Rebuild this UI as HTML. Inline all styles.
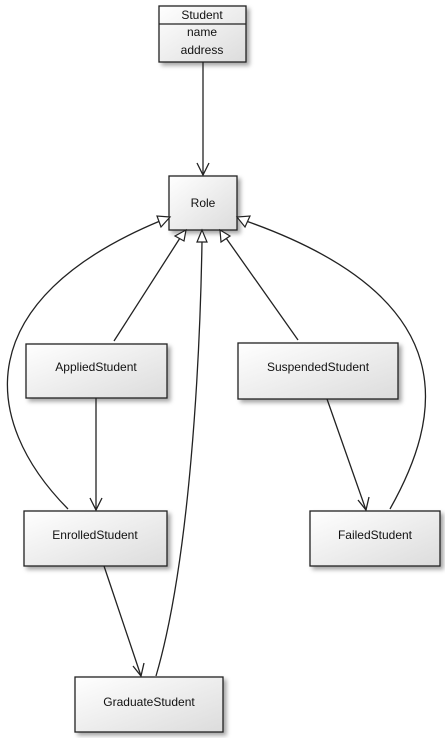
<!DOCTYPE html>
<html><head><meta charset="utf-8"><style>
html,body{margin:0;padding:0;background:#fff;}
svg{display:block;}
text{font-family:"Liberation Sans",sans-serif;font-size:12px;fill:#111;}
</style></head><body>
<svg width="445" height="738" viewBox="0 0 445 738" xmlns="http://www.w3.org/2000/svg">
<defs>
<linearGradient id="g" x1="0" y1="0" x2="1" y2="1">
<stop offset="0" stop-color="#ffffff"/><stop offset="1" stop-color="#dcdcdc"/>
</linearGradient>
<filter id="s" x="-20%" y="-20%" width="150%" height="150%">
<feDropShadow dx="3" dy="3" stdDeviation="2" flood-color="#000" flood-opacity="0.35"/>
</filter>
</defs>
<g stroke="#222" stroke-width="1.3" fill="url(#g)" filter="url(#s)">
<rect x="159" y="6" width="87" height="56"/>
<rect x="169" y="176" width="68" height="54"/>
<rect x="26" y="344" width="141" height="54"/>
<rect x="238" y="343" width="160" height="56"/>
<rect x="24" y="511" width="143" height="55"/>
<rect x="310" y="511" width="130" height="55"/>
<rect x="75" y="677" width="148" height="55"/>
</g>
<line x1="159" y1="24" x2="246" y2="24" stroke="#222" stroke-width="1.2"/>
<g text-anchor="middle">
<text x="202" y="19">Student</text>
<text x="202" y="36">name</text>
<text x="202" y="54">address</text>
<text x="203" y="207">Role</text>
<text x="96" y="371">AppliedStudent</text>
<text x="318" y="371">SuspendedStudent</text>
<text x="95" y="539">EnrolledStudent</text>
<text x="375" y="539">FailedStudent</text>
<text x="149" y="706">GraduateStudent</text>
</g>
<g stroke="#222" stroke-width="1.3" fill="none">
<line x1="203" y1="62" x2="203" y2="175"/>
<polyline points="197,163 203,175 209,163"/>
<line x1="96" y1="398" x2="96" y2="510"/>
<polyline points="90,498 96,510 102,498"/>
<line x1="327" y1="399" x2="366" y2="510"/>
<polyline points="358,500 366,510 369,497"/>
<line x1="104" y1="566" x2="141" y2="676"/>
<polyline points="133,666 141,676 144,663"/>
<line x1="114" y1="341" x2="180" y2="238"/>
<path d="M68,509 C-20,420 -30,300 160,221"/>
<path d="M156,676 C190,560 200,360 202,242"/>
<line x1="298" y1="340" x2="226" y2="238"/>
<path d="M390,509 C440,420 470,300 246,221"/>
</g>
<g stroke="#222" stroke-width="1.2" fill="#fff">
<polygon points="186,230 175,236 184,241"/>
<polygon points="170,217 157,216 161,227"/>
<polygon points="202,230 197,242 207,242"/>
<polygon points="220,230 221,242 230,236"/>
<polygon points="237,217 245,227 250,216"/>
</g>
</svg>
</body></html>
